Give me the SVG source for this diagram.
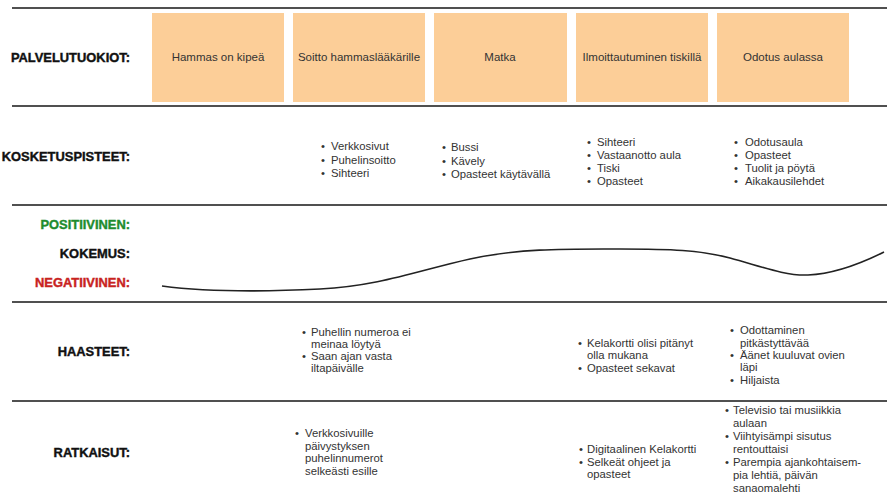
<svg xmlns="http://www.w3.org/2000/svg" width="887" height="497" viewBox="0 0 887 497">
<style>
.rule{stroke:#505050;stroke-width:2;fill:none}
.box{fill:#FCCE98}
.bt{font-family:"Liberation Sans",Arial,sans-serif;font-size:11.5px;fill:#333;text-anchor:middle}
.lab{font-family:"Liberation Sans",Arial,sans-serif;font-size:12.9px;font-weight:bold;fill:#111;stroke:#111;stroke-width:0.4;text-anchor:end}
.pos{fill:#1E8C2E;stroke:#1E8C2E}
.neg{fill:#C8231E;stroke:#C8231E}
.li{font-family:"Liberation Sans",Arial,sans-serif;font-size:11.3px;fill:#333}
.curve{fill:none;stroke:#222;stroke-width:1.6}
</style>
<rect width="887" height="497" fill="#fff"/>
<g id="rules">
<line class="rule" x1="12" y1="8" x2="887" y2="8"/>
<line class="rule" x1="12" y1="106" x2="887" y2="106"/>
<line class="rule" x1="12" y1="205" x2="887" y2="205"/>
<line class="rule" x1="12" y1="302" x2="887" y2="302"/>
<line class="rule" x1="12" y1="401" x2="887" y2="401"/>
</g>
<g id="labels">
<text class="lab" x="130" y="62">PALVELUTUOKIOT:</text>
<text class="lab" x="130" y="161">KOSKETUSPISTEET:</text>
<text class="lab pos" x="130" y="229">POSITIIVINEN:</text>
<text class="lab" x="130" y="258">KOKEMUS:</text>
<text class="lab neg" x="130" y="287">NEGATIIVINEN:</text>
<text class="lab" x="130" y="356">HAASTEET:</text>
<text class="lab" x="130" y="457">RATKAISUT:</text>
</g>
<g id="stage1"><rect class="box" x="152" y="13" width="132" height="89"/><text class="bt" x="218" y="61">Hammas on kipeä</text></g>
<g id="stage2"><rect class="box" x="293" y="13" width="132" height="89"/><text class="bt" x="359" y="61">Soitto hammaslääkärille</text></g>
<g id="stage3"><rect class="box" x="434" y="13" width="133" height="89"/><text class="bt" x="500" y="61">Matka</text></g>
<g id="stage4"><rect class="box" x="576" y="13" width="132" height="89"/><text class="bt" x="642" y="61">Ilmoittautuminen tiskillä</text></g>
<g id="stage5"><rect class="box" x="717" y="13" width="132" height="89"/><text class="bt" x="783" y="61">Odotus aulassa</text></g>
<g id="touchpoints">
<text class="li"><tspan x="321" y="150">•</tspan><tspan x="331">Verkkosivut</tspan><tspan x="321" y="163.5">•</tspan><tspan x="331">Puhelinsoitto</tspan><tspan x="321" y="177">•</tspan><tspan x="331">Sihteeri</tspan></text>
<text class="li"><tspan x="442" y="151">•</tspan><tspan x="451">Bussi</tspan><tspan x="442" y="164.5">•</tspan><tspan x="451">Kävely</tspan><tspan x="442" y="178">•</tspan><tspan x="451">Opasteet käytävällä</tspan></text>
<text class="li"><tspan x="587" y="146">•</tspan><tspan x="597">Sihteeri</tspan><tspan x="587" y="159">•</tspan><tspan x="597">Vastaanotto aula</tspan><tspan x="587" y="172">•</tspan><tspan x="597">Tiski</tspan><tspan x="587" y="185">•</tspan><tspan x="597">Opasteet</tspan></text>
<text class="li"><tspan x="734" y="146">•</tspan><tspan x="745">Odotusaula</tspan><tspan x="734" y="159">•</tspan><tspan x="745">Opasteet</tspan><tspan x="734" y="172">•</tspan><tspan x="745">Tuolit ja pöytä</tspan><tspan x="734" y="185">•</tspan><tspan x="745">Aikakausilehdet</tspan></text>
</g>
<g id="connectors">
<path class="curve" d="M162,286 C200,291 260,292 320,289 S420,270 470,259 S570,249 620,249 S700,250 730,258 S785,276 808,275 S860,264 884,252"/>
</g>
<g id="challenges">
<text class="li"><tspan x="302" y="336">•</tspan><tspan x="311">Puhellin numeroa ei</tspan><tspan x="311" y="348">meinaa löytyä</tspan><tspan x="302" y="360">•</tspan><tspan x="311">Saan ajan vasta</tspan><tspan x="311" y="372">iltapäivälle</tspan></text>
<text class="li"><tspan x="578" y="347">•</tspan><tspan x="587">Kelakortti olisi pitänyt</tspan><tspan x="587" y="359">olla mukana</tspan><tspan x="578" y="372">•</tspan><tspan x="587">Opasteet sekavat</tspan></text>
<text class="li"><tspan x="730" y="334">•</tspan><tspan x="740">Odottaminen</tspan><tspan x="740" y="347">pitkästyttävää</tspan><tspan x="730" y="359">•</tspan><tspan x="740">Äänet kuuluvat ovien</tspan><tspan x="740" y="371">läpi</tspan><tspan x="730" y="384">•</tspan><tspan x="740">Hiljaista</tspan></text>
</g>
<g id="solutions">
<text class="li"><tspan x="295" y="437">•</tspan><tspan x="305">Verkkosivuille</tspan><tspan x="305" y="449.5">päivystyksen</tspan><tspan x="305" y="462">puhelinnumerot</tspan><tspan x="305" y="474.5">selkeästi esille</tspan></text>
<text class="li"><tspan x="579" y="453">•</tspan><tspan x="587">Digitaalinen Kelakortti</tspan><tspan x="579" y="465.5">•</tspan><tspan x="587">Selkeät ohjeet ja</tspan><tspan x="587" y="478">opasteet</tspan></text>
<text class="li"><tspan x="725" y="414">•</tspan><tspan x="733">Televisio tai musiikkia</tspan><tspan x="733" y="427">aulaan</tspan><tspan x="725" y="440">•</tspan><tspan x="733">Viihtyisämpi sisutus</tspan><tspan x="733" y="453">rentouttaisi</tspan><tspan x="725" y="466">•</tspan><tspan x="733">Parempia ajankohtaisem-</tspan><tspan x="733" y="479">pia lehtiä, päivän</tspan><tspan x="733" y="492">sanaomalehti</tspan></text>
</g>
</svg>
